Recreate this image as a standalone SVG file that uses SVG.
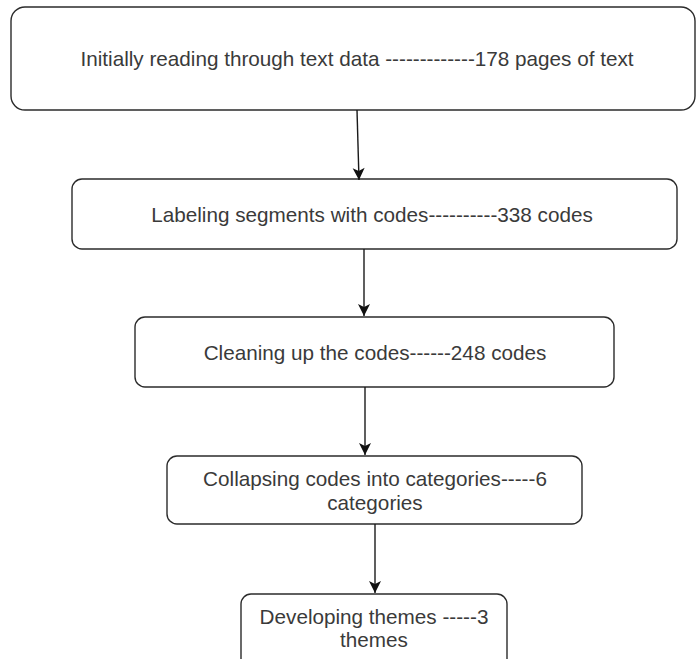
<svg xmlns="http://www.w3.org/2000/svg" width="696" height="659" viewBox="0 0 696 659">
  <style>
    .box { fill: #ffffff; stroke: #2b2b2b; stroke-width: 1.4; }
    .label { font-family: "Liberation Sans", Arial, sans-serif; font-size: 20.7px; fill: #3a3a3a; text-anchor: middle; }
    .edge { fill: none; stroke: #1a1a1a; stroke-width: 1.4; }
  </style>
  <defs>
    <marker id="arrow" markerUnits="userSpaceOnUse" markerWidth="14" markerHeight="14" viewBox="0 0 14 14" refX="13" refY="7" orient="auto">
      <path d="M1,1 L13,7 L1,13 L4,7 Z" fill="#111111"/>
    </marker>
  </defs>

  <rect width="696" height="659" fill="#ffffff"/>

  <!-- process steps -->
  <g id="step-read">
    <rect class="box" x="11" y="7" width="684" height="103" rx="14" ry="14"/>
    <text class="label" x="357" y="66">Initially reading through text data -------------178 pages of text</text>
  </g>

  <g id="step-label">
    <rect class="box" x="72" y="179" width="605" height="70" rx="10" ry="10"/>
    <text class="label" x="372" y="222">Labeling segments with codes----------338 codes</text>
  </g>

  <g id="step-clean">
    <rect class="box" x="135" y="317" width="479" height="70" rx="10" ry="10"/>
    <text class="label" x="375" y="360">Cleaning up the codes------248 codes</text>
  </g>

  <g id="step-collapse">
    <rect class="box" x="167" y="456" width="415" height="68" rx="10" ry="10"/>
    <text class="label" x="375" y="486">Collapsing codes into categories-----6</text>
    <text class="label" x="375" y="510">categories</text>
  </g>

  <g id="step-themes">
    <rect class="box" x="241" y="594" width="266" height="80" rx="10" ry="10"/>
    <text class="label" x="374" y="624">Developing themes -----3</text>
    <text class="label" x="374" y="647">themes</text>
  </g>

  <!-- connectors -->
  <g id="connectors">
    <line class="edge" x1="357" y1="110" x2="359" y2="180" marker-end="url(#arrow)"/>
    <line class="edge" x1="364" y1="249" x2="364" y2="316" marker-end="url(#arrow)"/>
    <line class="edge" x1="365" y1="387" x2="365" y2="455" marker-end="url(#arrow)"/>
    <line class="edge" x1="375" y1="524" x2="375" y2="593" marker-end="url(#arrow)"/>
  </g>
</svg>
